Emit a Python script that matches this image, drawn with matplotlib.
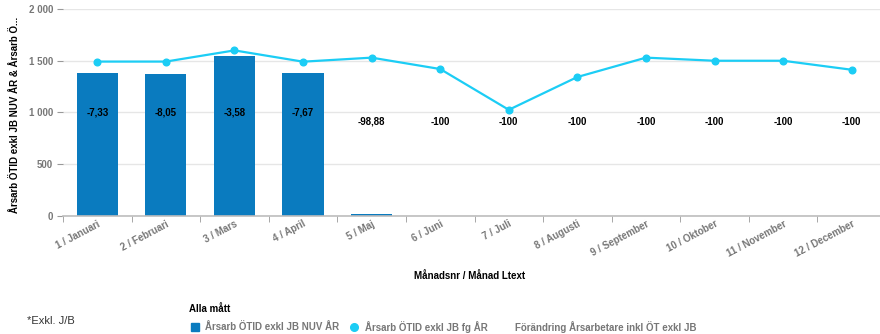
import numpy as np
import matplotlib.pyplot as plt
from matplotlib.ticker import FuncFormatter

plt.rcParams['font.family'] = ['Liberation Sans', 'DejaVu Sans']

# månader och värden
months = ["1 / Januari", "2 / Februari", "3 / Mars", "4 / April", "5 / Maj", "6 / Juni",
          "7 / Juli", "8 / Augusti", "9 / September", "10 / Oktober", "11 / November",
          "12 / December"]
arsarb_nuv = [1383, 1372, 1543, 1377, 17]
arsarb_fg = [1492, 1492, 1600, 1491, 1530, 1420, 1026, 1343, 1530, 1500, 1500, 1413]
forandring = ["-7,33", "-8,05", "-3,58", "-7,67", "-98,88", "-100", "-100", "-100",
              "-100", "-100", "-100", "-100"]

bar_col = "#0a7bbf"
line_col = "#1ccdf5"
grey_txt = "#777777"

fig = plt.figure(figsize=(8.8, 3.34), dpi=100)
ax = fig.add_axes([63 / 880, 118 / 334, 823 / 880, 207 / 334])

x = np.arange(len(months))
ax.bar(x[:len(arsarb_nuv)], arsarb_nuv, width=0.6, color=bar_col, zorder=2)
ax.plot(x, arsarb_fg, color=line_col, lw=1.6, marker="o", ms=4.8, zorder=3)

# förändring i procent som etiketter
for i, lbl in enumerate(forandring):
    y = 1000 if i < 4 else 910
    ax.text(i, y, lbl, ha="center", va="center", fontsize=7, fontweight="bold",
            color="black", zorder=4)

ax.set_xlim(-0.5, len(months) - 0.5)
ax.set_ylim(0, 2000)
ax.set_yticks([0, 500, 1000, 1500, 2000])
ax.yaxis.set_major_formatter(FuncFormatter(lambda v, p: f"{int(v):,}".replace(",", " ")))
ax.grid(axis="y", color="#e6e6e6", lw=1, zorder=0)
ax.set_axisbelow(True)

for s in ["top", "right", "left"]:
    ax.spines[s].set_visible(False)
ax.spines["bottom"].set_color("#bdbdbd")
ax.spines["bottom"].set_linewidth(1.2)

ax.set_xticks(x)
ax.set_xticks(np.arange(-0.5, len(months)), minor=True)
ax.tick_params(axis="x", which="major", length=0, pad=2)
ax.tick_params(axis="x", which="minor", length=4, color="#999999")
ax.set_xticklabels(months, rotation=28, ha="right", rotation_mode="anchor",
                   fontsize=7, fontweight="bold", color=grey_txt)
ax.tick_params(axis="y", length=4, color="#999999", pad=3, labelsize=7,
               labelcolor=grey_txt)
for t in ax.get_yticklabels():
    t.set_fontweight("bold")

ax.set_xlabel("Månadsnr / Månad Ltext", fontsize=7, fontweight="bold")
ax.set_ylabel("Årsarb ÖTID exkl JB NUV ÅR & Årsarb Ö...", fontsize=7,
              fontweight="bold")
ax.yaxis.set_label_coords(-(63 - 15) / 823, 0.49)
ax.xaxis.set_label_coords((470 - 63) / 823, -(276 - 216) / 207)
ax.yaxis.label.set_va("center")
ax.xaxis.label.set_va("center")

# förklaring under diagrammet
fig.text(27 / 880, 1 - 321 / 334, "*Exkl. J/B", fontsize=8, color="#333333",
         va="center")
fig.text(189 / 880, 1 - 309 / 334, "Alla mått", fontsize=7, fontweight="bold",
         va="center")
fig.patches.append(plt.Rectangle((191 / 880, 1 - 331 / 334), 8 / 880, 8 / 334,
                                 transform=fig.transFigure, color=bar_col))
fig.text(205 / 880, 1 - 327 / 334, "Årsarb ÖTID exkl JB NUV ÅR", fontsize=7,
         fontweight="bold", color=grey_txt, va="center")
fig.add_artist(plt.Line2D([354 / 880], [1 - 327 / 334], marker="o", ms=5.5,
                          color=line_col, transform=fig.transFigure))
fig.text(365 / 880, 1 - 327 / 334, "Årsarb ÖTID exkl JB fg ÅR", fontsize=7,
         fontweight="bold", color=grey_txt, va="center")
fig.text(515 / 880, 1 - 327 / 334, "Förändring Årsarbetare inkl ÖT exkl JB",
         fontsize=7, fontweight="bold", color=grey_txt, va="center")

fig.savefig("out.png", dpi=100)
